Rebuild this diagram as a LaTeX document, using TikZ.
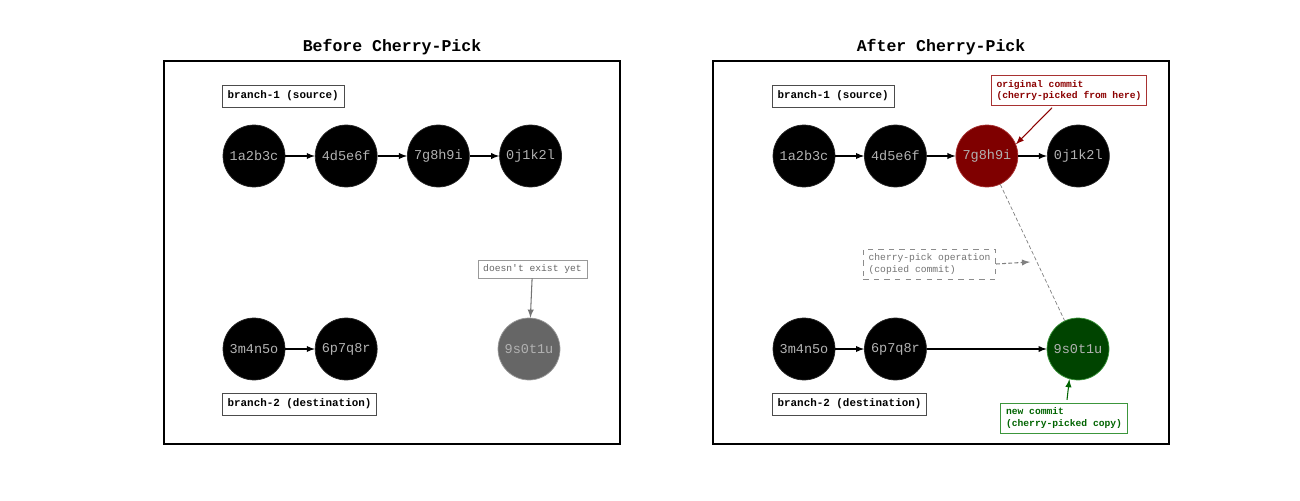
\documentclass[tikz,border=0pt]{standalone}
\usepackage{fontspec}
\setmonofont{Liberation Mono}
\usepackage{tikz}
\usetikzlibrary{arrows, positioning, calc}

\definecolor{pickfill}{HTML}{7F0000}
\definecolor{pickedge}{HTML}{A83232}
\definecolor{picktext}{HTML}{8B0000}
\definecolor{copyfill}{HTML}{004400}
\definecolor{copyedge}{HTML}{3C963C}
\definecolor{copytext}{HTML}{006400}

\begin{document}
\begin{tikzpicture}[
        x=0.02cm, y=-0.02cm,
        commit/.style={circle, fill=black, draw=black!85, minimum size=1.24cm, inner sep=0pt, text=black!30, font=\ttfamily\fontsize{7.7}{9}\selectfont},
        branchlabel/.style={rectangle, draw=black!70, fill=white, inner xsep=3pt, minimum height=10.8pt, font=\ttfamily\bfseries\fontsize{6.2}{7}\selectfont},
        note/.style={rectangle, draw, fill=white, align=left, inner xsep=3pt, inner ysep=2.5pt, font=\ttfamily\fontsize{5.5}{6.8}\selectfont},
        title/.style={font=\ttfamily\bfseries\fontsize{9.4}{11}\selectfont},
        frame/.style={draw=black, line width=0.9pt},
        arrow/.style={line width=0.6pt, ->, >=latex}
    ]
        \useasboundingbox (0,0) rectangle (1300,500);

        % Before cherry-pick
        \node[title] (titleA) at (392,47) {Before Cherry-Pick};
        \draw[frame] (164,61) rectangle (620,444);

        \node[branchlabel, anchor=west] (srcA) at (222,96) {branch-1 (source)};
        \node[commit] (a1) at (254,156) {1a2b3c};
        \node[commit, right=0.59cm of a1] (a2) {4d5e6f};
        \node[commit, right=0.59cm of a2] (a3) {7g8h9i};
        \node[commit, right=0.59cm of a3] (a4) {0j1k2l};

        \node[commit] (a5) at (254,349) {3m4n5o};
        \node[commit, right=0.59cm of a5] (a6) {6p7q8r};
        \node[commit, fill=black!60, draw=black!40] (ghost) at (529,349) {9s0t1u};
        \node[branchlabel, anchor=west] (dstA) at (222,404) {branch-2 (destination)};

        \node[note, draw=black!40, text=black!60] (ghostnote) at (532.5,269) {doesn't exist yet};

        % After cherry-pick
        \node[title] (titleB) at (941,47) {After Cherry-Pick};
        \draw[frame] (713,61) rectangle (1169,444);

        \node[branchlabel, anchor=west] (srcB) at (772,96) {branch-1 (source)};
        \node[commit] (b1) at (804,156) {1a2b3c};
        \node[commit, right=0.575cm of b1] (b2) {4d5e6f};
        \node[commit, right=0.575cm of b2, fill=pickfill, draw=pickedge] (pick) {7g8h9i};
        \node[commit, right=0.575cm of pick] (b4) {0j1k2l};

        \node[commit] (b5) at (804,349) {3m4n5o};
        \node[commit, right=0.575cm of b5] (b6) {6p7q8r};
        \node[commit, fill=copyfill, draw=copyedge] (copy) at (1078,349) {9s0t1u};
        \node[branchlabel, anchor=west] (dstB) at (772,404) {branch-2 (destination)};

        \node[note, draw=pickedge, text=picktext, font=\ttfamily\bfseries\fontsize{5.5}{6.8}\selectfont] (orignote) at (1069,90.5) {original commit\\(cherry-picked from here)};
        \node[note, dashed, draw=black!45, text=black!55] (opnote) at (929.5,264) {cherry-pick operation\\(copied commit)};
        \node[note, draw=copyedge, text=copytext, font=\ttfamily\bfseries\fontsize{5.5}{6.8}\selectfont] (copynote) at (1064,418) {new commit\\(cherry-picked copy)};
        \coordinate (opend) at (1030,262);

        % Arrows
        \draw[arrow] (a1) -- (a2);
        \draw[arrow] (a2) -- (a3);
        \draw[arrow] (a3) -- (a4);
        \draw[arrow] (a5) -- (a6);
        \draw[arrow, black!55] (ghostnote) -- (ghost);

        \draw[arrow] (b1) -- (b2);
        \draw[arrow] (b2) -- (pick);
        \draw[arrow] (pick) -- (b4);
        \draw[arrow] (b5) -- (b6);
        \draw[arrow] (b6) -- (copy);
        \draw[black!50, dash pattern=on 2.2pt off 1.3pt] (pick) -- (copy);
        \draw[arrow, black!50, dash pattern=on 2.2pt off 1.3pt] (opnote.east) -- (opend);
        \draw[arrow, picktext] ([xshift=-0.34cm, yshift=-0.04cm]orignote.south) -- (pick.22);
        \draw[arrow, copytext] ([xshift=0.06cm, yshift=0.06cm]copynote.north) -- (copy.-106);
    \end{tikzpicture}
\end{document}
